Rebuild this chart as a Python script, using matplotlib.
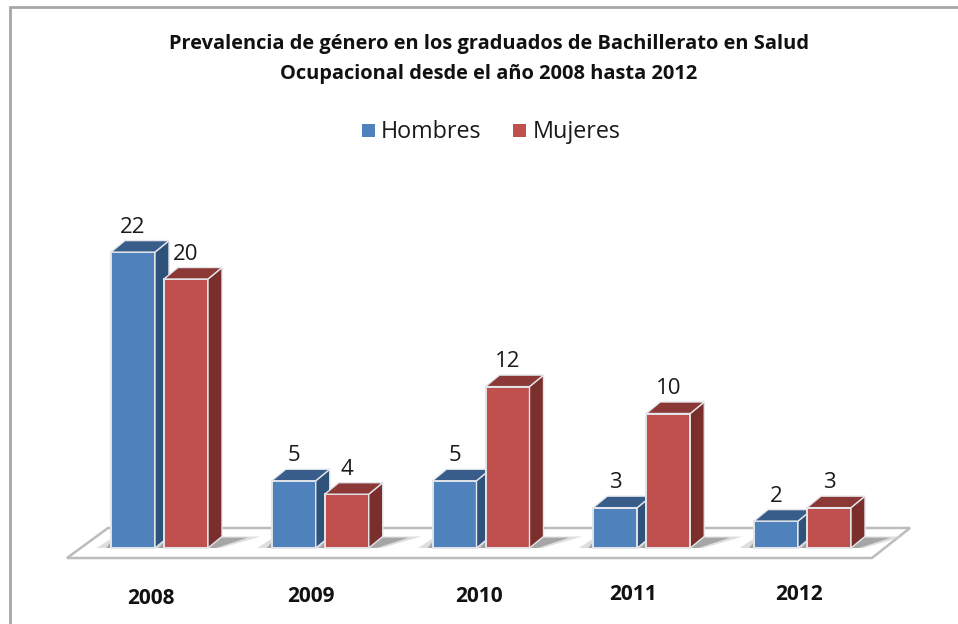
import matplotlib
matplotlib.use('Agg')
import matplotlib.pyplot as plt
from matplotlib.patches import Polygon

anios = ['2008', '2009', '2010', '2011', '2012']
hombres = [22, 5, 5, 3, 2]
mujeres = [20, 4, 12, 10, 3]

titulo = 'Prevalencia de género en los graduados de Bachillerato en Salud\nOcupacional desde el año 2008 hasta 2012'

# escala de la imagen: pixeles por grupo y por unidad
px_x = 160.75
px_y = 13.45
x0_px = 159.5
y0_px = 548

ancho = 44 / px_x
sep = 26.5 / px_x
dx = 14 / px_x
dy = 11.5 / px_y

plt.rcParams['font.family'] = ['Open Sans', 'DejaVu Sans']

fig = plt.figure(figsize=(9.58, 6.24), dpi=100)
ax = fig.add_axes([0, 0, 1, 1])
ax.set_xlim(-x0_px / px_x, (958 - x0_px) / px_x)
ax.set_ylim(-(624 - y0_px) / px_y, y0_px / px_y)
ax.axis('off')


def px(x, y):
    return ((x - x0_px) / px_x, (y0_px - y) / px_y)


# marco de la imagen
ax.plot(*zip(px(10, 624), px(10, 7), px(958, 7)), color='#a6a6a6', lw=2, zorder=1, solid_joinstyle='miter')

# piso
piso = Polygon([px(67, 558), px(872, 558), px(910, 528), px(108, 528)], closed=True,
               facecolor='white', edgecolor='#bcbcbc', lw=1.8, zorder=2)
ax.add_patch(piso)


def barra(x, v, frente, lado, arriba, z):
    d = x + ancho / 2
    i = x - ancho / 2
    # sombra sobre el piso, dos capas para que se vaya apagando
    ax.add_patch(Polygon([(i - 0.09, 0), (d + 0.08, 0), (d + dx + 0.24, dy), (i + 0.02, dy)],
                         closed=True, facecolor='#d0d0d0', edgecolor='none', alpha=0.7, zorder=3))
    ax.add_patch(Polygon([(i - 0.03, 0), (d + 0.05, 0), (d + dx + 0.16, dy * 0.9), (i + 0.02, dy * 0.9)],
                         closed=True, facecolor='#8f8f8f', edgecolor='none', alpha=0.7, zorder=3))
    ax.bar(x, v, width=ancho, color=frente, edgecolor='#e3e6ea', lw=1.4, zorder=z)
    ax.add_patch(Polygon([(d, 0), (d + dx, dy), (d + dx, v + dy), (d, v)], closed=True,
                         facecolor=lado, edgecolor='#e3e6ea', lw=1.0, zorder=z))
    ax.add_patch(Polygon([(i, v), (i + dx, v + dy), (d + dx, v + dy), (d, v)], closed=True,
                         facecolor=arriba, edgecolor='#e3e6ea', lw=1.0, zorder=z))
    ax.annotate(str(v), (x, v), xytext=(0, 25 * 0.72), textcoords='offset points',
                ha='center', va='center', fontsize=16, color='#1a1a1a', zorder=20)


for i in range(len(anios)):
    barra(i - sep, hombres[i], '#4f81bd', '#2f527b', '#385d8a', 4 + i * 2)
    barra(i + sep, mujeres[i], '#c0504d', '#7b2f2d', '#8c3836', 5 + i * 2)

# etiquetas del eje, algo inclinadas como en la captura
etiqueta_px = [(151, 598), (311, 597), (479, 596), (633, 594), (799, 594)]
for a, p in zip(anios, etiqueta_px):
    ax.text(*px(*p), a, ha='center', va='center', fontsize=15, fontweight='bold', color='#111111')

lineas = titulo.split('\n')
ax.text(*px(489, 43.5), lineas[0], ha='center', va='center', fontsize=14.4, fontweight='bold', color='#111111')
ax.text(*px(489, 74.5), lineas[1], ha='center', va='center', fontsize=14.4, fontweight='bold', color='#111111')

# leyenda
for x_m, x_t, color, texto in [(362, 381, '#4f81bd', 'Hombres'), (513, 533, '#c0504d', 'Mujeres')]:
    x1, y1 = px(x_m, 137)
    x2, y2 = px(x_m + 13, 124)
    ax.add_patch(Polygon([(x1, y1), (x2, y1), (x2, y2), (x1, y2)], closed=True, facecolor=color, edgecolor='none'))
    ax.text(*px(x_t, 138), texto, ha='left', va='baseline', fontsize=16.8, color='#1a1a1a')

fig.savefig('out.png', dpi=100)
